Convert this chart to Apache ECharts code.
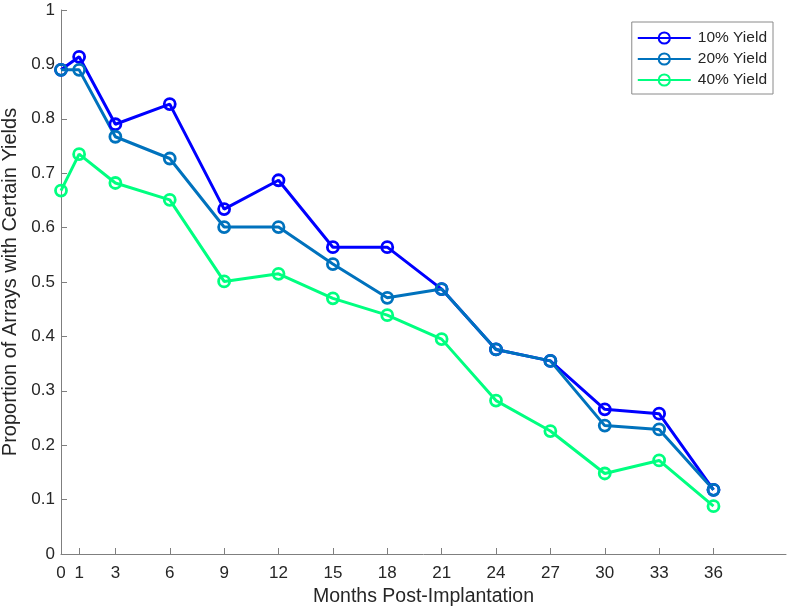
<!DOCTYPE html>
<html>
<head>
<meta charset="utf-8">
<script src="https://cdn.jsdelivr.net/npm/echarts@6/dist/echarts.min.js"></script>
<style>html,body{margin:0;padding:0;background:#fff}#c{width:790px;height:612px}</style>
</head>
<body>
<div id="c"></div>
<script>
var months = [0, 1, 3, 6, 9, 12, 15, 18, 21, 24, 27, 30, 33, 36];
var xTicks = [0, 1, 3, 6, 9, 12, 15, 18, 21, 24, 27, 30, 33, 36];
var yield10 = [0.890, 0.914, 0.790, 0.827, 0.634, 0.687, 0.564, 0.564, 0.487, 0.376, 0.355, 0.266, 0.258, 0.118];
var yield20 = [0.890, 0.890, 0.767, 0.727, 0.601, 0.601, 0.533, 0.471, 0.487, 0.376, 0.355, 0.236, 0.229, 0.118];
var yield40 = [0.668, 0.735, 0.682, 0.651, 0.501, 0.515, 0.470, 0.439, 0.395, 0.282, 0.226, 0.148, 0.172, 0.088];
var seriesNames = ['10% Yield', '20% Yield', '40% Yield'];
var seriesColors = ['#0000FF', '#0072BD', '#00FF80'];

function pairs(vals) { return months.map(function (m, i) { return [m, vals[i]]; }); }
var allVals = [yield10, yield20, yield40];
var FONT = '"Liberation Sans", Arial, Helvetica, sans-serif';

var chart = echarts.init(document.getElementById('c'), null, {renderer: 'canvas'});
chart.setOption({
  animation: false,
  backgroundColor: '#fff',
  grid: {left: 61, right: 4, top: 10, bottom: 58, containLabel: false, outerBoundsMode: 'none'},
  legend: {
    orient: 'vertical', right: 17, top: 22,
    padding: [8, 6, 6, 5], itemGap: 5, itemWidth: 53, itemHeight: 14,
    backgroundColor: '#fff', borderColor: '#8a8a8a', borderWidth: 1, borderRadius: 0,
    textStyle: {fontFamily: FONT, fontSize: 15.5, color: '#262626', padding: [0, 0, 0, 2]},
    data: seriesNames
  },
  xAxis: {
    type: 'value', min: 0, max: 40,
    name: 'Months Post-Implantation', nameLocation: 'middle', nameGap: 28,
    nameTextStyle: {fontFamily: FONT, fontSize: 19.5, color: '#262626'},
    axisLine: {show: true, onZero: false, lineStyle: {color: '#7f7f7f', width: 1}},
    axisTick: {show: true, inside: true, length: 6, customValues: xTicks, lineStyle: {color: '#7f7f7f'}},
    axisLabel: {customValues: xTicks, fontFamily: FONT, fontSize: 17, color: '#262626', margin: 11},
    splitLine: {show: false}
  },
  yAxis: {
    type: 'value', min: 0, max: 1, interval: 0.1,
    name: 'Proportion of Arrays with Certain Yields', nameLocation: 'middle', nameGap: 40,
    nameTextStyle: {fontFamily: FONT, fontSize: 20, color: '#262626'},
    axisLine: {show: true, lineStyle: {color: '#7f7f7f', width: 1}},
    axisTick: {show: true, inside: true, length: 6, lineStyle: {color: '#7f7f7f'}},
    axisLabel: {fontFamily: FONT, fontSize: 17, color: '#262626', margin: 6},
    splitLine: {show: false}
  },
  series: seriesNames.map(function (n, i) {
    return {
      name: n, type: 'line', data: pairs(allVals[i]),
      symbol: 'circle', symbolSize: 11, showAllSymbol: true,
      lineStyle: {color: seriesColors[i], width: 3},
      itemStyle: {color: 'rgba(255,255,255,0)', borderColor: seriesColors[i], borderWidth: 2.8},
      emphasis: {disabled: true}
    };
  })
});
</script>
</body>
</html>
